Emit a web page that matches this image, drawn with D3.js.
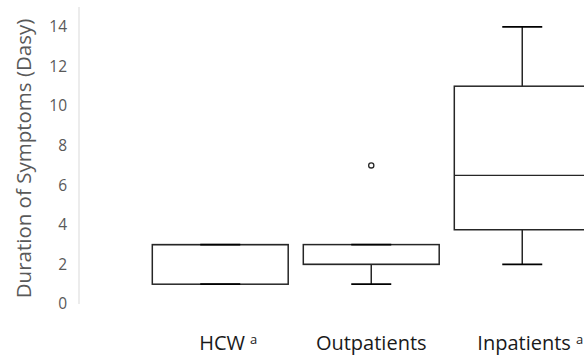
<!DOCTYPE html>
<html>
<head>
<meta charset="utf-8">
<script src="https://cdn.jsdelivr.net/npm/d3@7"></script>
<style>
  body { margin: 0; background: #fff; }
  text { font-family: 'Open Sans', sans-serif; }
</style>
</head>
<body>
<div id="chart"></div>
<script>
const categories = ['HCW', 'Outpatients', 'Inpatients']
const superscripts = ['a', '', 'a']
const mins = [1, 1, 2]
const q1s = [1, 2, 3.75]
const medians = [3, 2, 6.5]
const q3s = [3, 3, 11]
const maxs = [3, 3, 14]
const outliers = [[], [7], []]
const yTicks = [0, 2, 4, 6, 8, 10, 12, 14]

const width = 584
const height = 356

const svg = d3.select('#chart')
  .append('svg')
  .attr('width', width)
  .attr('height', height)

const y = d3.scaleLinear().domain([0, 15]).range([304, 7])
const x = d3.scaleBand()
  .domain(categories)
  .range([144.75, 597.75])
  .paddingInner(0.1)
  .paddingOuter(0.05)

const boxes = categories.map((c, i) => ({
  cat: c, sup: superscripts[i], min: mins[i], q1: q1s[i], med: medians[i],
  q3: q3s[i], max: maxs[i], out: outliers[i]
}))

// y axis
svg.append('line')
  .attr('x1', 79).attr('x2', 79)
  .attr('y1', y(15)).attr('y2', y(0))
  .attr('stroke', '#d9d9d9')
  .attr('stroke-width', 1)

svg.selectAll('.ytick')
  .data(yTicks)
  .enter()
  .append('text')
  .attr('class', 'ytick')
  .attr('x', 67)
  .attr('y', d => y(d))
  .attr('dy', '0.35em')
  .attr('text-anchor', 'end')
  .attr('font-size', 15.5)
  .attr('fill', '#595959')
  .text(d => d)

svg.append('text')
  .attr('transform', 'translate(31,' + ((y(0) + y(15)) / 2 + 3) + ') rotate(-90)')
  .attr('text-anchor', 'middle')
  .attr('font-size', 20.5)
  .attr('fill', '#595959')
  .text('Duration of Symptoms (Dasy)')

const capW = 40
const g = svg.selectAll('.box')
  .data(boxes)
  .enter()
  .append('g')
  .attr('class', 'box')

const stroke = '#262626'

// whiskers
g.append('line')
  .attr('x1', d => x(d.cat) + x.bandwidth() / 2)
  .attr('x2', d => x(d.cat) + x.bandwidth() / 2)
  .attr('y1', d => y(d.max)).attr('y2', d => y(d.q3))
  .attr('stroke', stroke).attr('stroke-width', 1.5)
g.append('line')
  .attr('x1', d => x(d.cat) + x.bandwidth() / 2)
  .attr('x2', d => x(d.cat) + x.bandwidth() / 2)
  .attr('y1', d => y(d.q1)).attr('y2', d => y(d.min))
  .attr('stroke', stroke).attr('stroke-width', 1.5)

// box
g.append('rect')
  .attr('x', d => x(d.cat))
  .attr('width', x.bandwidth())
  .attr('y', d => y(d.q3))
  .attr('height', d => y(d.q1) - y(d.q3))
  .attr('fill', 'none')
  .attr('stroke', stroke).attr('stroke-width', 1.5)

// median
g.append('line')
  .attr('x1', d => x(d.cat)).attr('x2', d => x(d.cat) + x.bandwidth())
  .attr('y1', d => y(d.med)).attr('y2', d => y(d.med))
  .attr('stroke', stroke).attr('stroke-width', 1.2)

// caps
g.selectAll('.cap')
  .data(d => [d.min, d.max].map(v => ({ v, cat: d.cat })))
  .enter()
  .append('line')
  .attr('class', 'cap')
  .attr('x1', d => x(d.cat) + x.bandwidth() / 2 - capW / 2)
  .attr('x2', d => x(d.cat) + x.bandwidth() / 2 + capW / 2)
  .attr('y1', d => y(d.v)).attr('y2', d => y(d.v))
  .attr('stroke', '#000').attr('stroke-width', 1.8)

// outliers
g.selectAll('.outlier')
  .data(d => d.out.map(v => ({ v, cat: d.cat })))
  .enter()
  .append('circle')
  .attr('class', 'outlier')
  .attr('cx', d => x(d.cat) + x.bandwidth() / 2)
  .attr('cy', d => y(d.v))
  .attr('r', 2.6)
  .attr('fill', '#fff')
  .attr('stroke', stroke).attr('stroke-width', 1.3)

// category labels
const lab = svg.selectAll('.xlab')
  .data(boxes)
  .enter()
  .append('text')
  .attr('class', 'xlab')
  .attr('x', d => x(d.cat) + x.bandwidth() / 2 + (d.sup ? 8 : 0))
  .attr('y', 350)
  .attr('text-anchor', 'middle')
  .attr('font-size', 20)
  .attr('fill', '#1a1a1a')
lab.append('tspan').text(d => d.cat)
lab.filter(d => d.sup)
  .append('tspan')
  .attr('dx', 5)
  .attr('dy', -6)
  .attr('font-size', 13)
  .text(d => d.sup)
</script>
</body>
</html>
